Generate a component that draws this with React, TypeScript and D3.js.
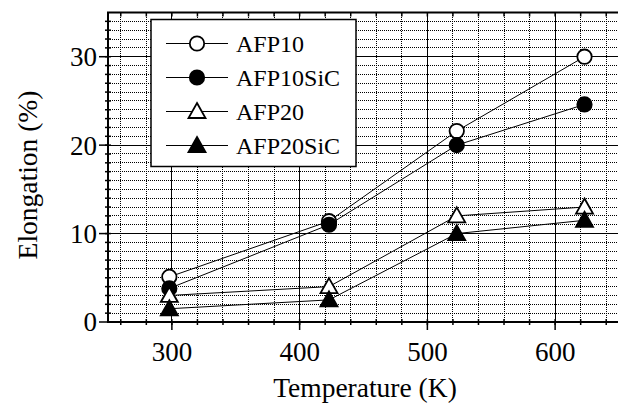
import React from "react";
import * as d3 from "d3";

// data
const temps = [298, 423, 523, 623];
const afp10 = [5.1, 11.4, 21.6, 30.0];
const afp10SiC = [3.8, 11.0, 20.0, 24.6];
const afp20 = [3.0, 4.0, 12.0, 13.0];
const afp20SiC = [1.5, 2.5, 10.0, 11.5];
const seriesNames = ["AFP10", "AFP10SiC", "AFP20", "AFP20SiC"];
const xTicks = [300, 400, 500, 600];
const yTicks = [0, 10, 20, 30];

const width = 618,
  height = 406;
const plot = { left: 108, right: 619, top: 12.5, bottom: 322 };
const font = '"Liberation Serif", "Times New Roman", Tinos, serif';

const x = d3.scaleLinear().domain([250, 650]).range([plot.left, plot.right]);
const y = d3.scaleLinear().domain([0, 35]).range([plot.bottom, plot.top]);

const xMinor = d3.range(260, 650, 20);
const yMinor = d3.range(1, 35, 1);

const series = [
  { name: seriesNames[0], values: afp10, shape: "circle", filled: false },
  { name: seriesNames[1], values: afp10SiC, shape: "circle", filled: true },
  { name: seriesNames[2], values: afp20, shape: "triangle", filled: false },
  { name: seriesNames[3], values: afp20SiC, shape: "triangle", filled: true },
];

const line = d3
  .line<number>()
  .x((d, i) => x(temps[i]))
  .y((d) => y(d));

function Marker({ cx, cy, shape, filled }) {
  const fill = filled ? "#000" : "#fff";
  if (shape === "circle") {
    return <circle cx={cx} cy={cy} r={7.2} fill={fill} stroke="#000" strokeWidth={1.8} />;
  }
  const p = `M${cx},${cy - 8.5}L${cx + 8.5},${cy + 6.5}L${cx - 8.5},${cy + 6.5}Z`;
  return <path d={p} fill={fill} stroke="#000" strokeWidth={1.8} strokeLinejoin="miter" />;
}

const txt = { fontFamily: font };

export default function App() {
  const legend = { x: 151, y: 19.5, w: 205, h: 147 };
  return (
    <svg
      width={width}
      height={height}
      style={{ position: "absolute", left: 0, top: 0, background: "#fff" }}
    >
      {/* grid */}
      <g shapeRendering="crispEdges">
        {yMinor
          .filter((v) => v % 10 !== 0)
          .map((v) => (
            <line key={"hy" + v} x1={plot.left} x2={plot.right} y1={y(v)} y2={y(v)} stroke="#000" strokeDasharray="1 1" />
          ))}
        {xMinor
          .filter((v) => v % 100 !== 0)
          .map((v) => (
            <line key={"vx" + v} x1={x(v)} x2={x(v)} y1={plot.top} y2={plot.bottom} stroke="#000" strokeDasharray="1 1" />
          ))}
        {yTicks.slice(1).map((v) => (
          <line key={"My" + v} x1={plot.left} x2={plot.right} y1={y(v)} y2={y(v)} stroke="#000" />
        ))}
        {xTicks.map((v) => (
          <line key={"Mx" + v} x1={x(v)} x2={x(v)} y1={plot.top} y2={plot.bottom} stroke="#000" />
        ))}
      </g>

      {/* ticks */}
      <g stroke="#000" strokeWidth={1.5}>
        {yMinor.map((v) => (
          <line key={"ty" + v} x1={plot.left - 3} x2={plot.left + 3} y1={y(v)} y2={y(v)} />
        ))}
        {yTicks.map((v) => (
          <line key={"tY" + v} x1={plot.left - 9} x2={plot.left} y1={y(v)} y2={y(v)} />
        ))}
        {xMinor.map((v) => (
          <line key={"tx" + v} x1={x(v)} x2={x(v)} y1={plot.bottom - 3} y2={plot.bottom + 3} />
        ))}
        {xTicks.map((v) => (
          <line key={"tX" + v} x1={x(v)} x2={x(v)} y1={plot.bottom} y2={plot.bottom + 8} />
        ))}
        {xMinor.map((v) => (
          <line key={"tt" + v} x1={x(v)} x2={x(v)} y1={plot.top} y2={plot.top + 4} />
        ))}
      </g>

      {/* frame */}
      <rect
        x={plot.left}
        y={plot.top}
        width={plot.right - plot.left}
        height={plot.bottom - plot.top}
        fill="none"
        stroke="#000"
        strokeWidth={2}
      />

      {/* tick labels and axis titles */}
      {yTicks.map((v) => (
        <text key={"ly" + v} x={plot.left - 11} y={y(v)} dy="0.35em" textAnchor="end" fontSize={27} style={txt}>
          {v}
        </text>
      ))}
      {xTicks.map((v) => (
        <text key={"lx" + v} x={x(v)} y={361} textAnchor="middle" fontSize={27} style={txt}>
          {v}
        </text>
      ))}
      <text x={365} y={397} textAnchor="middle" fontSize={27.5} style={txt}>
        Temperature (K)
      </text>
      <text transform={`translate(37,175) rotate(-90)`} textAnchor="middle" fontSize={27.5} style={txt}>
        Elongation (%)
      </text>

      {/* series */}
      {series.map((s) => (
        <path key={"l" + s.name} d={line(s.values) || ""} fill="none" stroke="#000" strokeWidth={1} />
      ))}
      {series.map((s) =>
        s.values.map((v, i) => (
          <Marker key={s.name + i} cx={x(temps[i])} cy={y(v)} shape={s.shape} filled={s.filled} />
        ))
      )}

      {/* legend */}
      <rect x={legend.x} y={legend.y} width={legend.w} height={legend.h} fill="#fff" stroke="#000" strokeWidth={1.5} />
      {series.map((s, i) => {
        const ly = 43.5 + i * 34;
        return (
          <g key={"lg" + s.name}>
            <line x1={166} x2={228} y1={ly} y2={ly} stroke="#000" strokeWidth={1} />
            <Marker cx={197} cy={ly} shape={s.shape} filled={s.filled} />
            <text x={236} y={ly} dy="0.35em" fontSize={24} style={txt}>
              {s.name}
            </text>
          </g>
        );
      })}
    </svg>
  );
}
